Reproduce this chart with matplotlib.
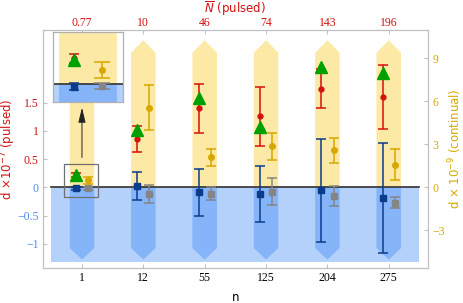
import numpy as np
import matplotlib
matplotlib.use('Agg')
import matplotlib.pyplot as plt
from matplotlib.patches import Polygon, Rectangle

# data
n_labels = ['1', '12', '55', '125', '204', '275']
nbar_labels = ['0.77', '10', '46', '74', '143', '196']

pulsed_val = [0.22, 0.86, 1.40, 1.26, 1.75, 1.60]      # x1e-7, left axis
pulsed_err = [0.035, 0.23, 0.43, 0.52, 0.35, 0.57]
theory_val = [0.21, 1.02, 1.58, 1.07, 2.13, 2.03]      # green triangles
blue_val = [-0.02, 0.03, -0.09, -0.12, -0.05, -0.19]   # x1e-7, left axis
blue_err = [0.028, 0.25, 0.42, 0.50, 0.91, 0.97]
gold_val = [0.48, 5.56, 2.09, 2.86, 2.58, 1.58]        # x1e-9, right axis
gold_err = [0.27, 1.55, 0.59, 0.95, 0.86, 1.07]
gray_val = [-0.06, -0.45, -0.44, -0.30, -0.63, -1.07]  # x1e-9, right axis
gray_err = [0.10, 0.62, 0.45, 0.93, 0.70, 0.38]

left_ticks = [-1, -0.5, 0, 0.5, 1, 1.5]
left_labels = ['\u22121', '\u22120.5', '0', '0.5', '1', '1.5']
right_ticks = [-3, 0, 3, 6, 9]
right_labels = ['\u22123', '0', '3', '6', '9']

RED = '#d41010'
GREEN = '#00a000'
NAVY = '#0b3c8c'
GOLD = '#d6a800'
GRAY = '#858585'
YELLOW = '#fde9a6'
LBLUE = '#b4d1fb'
DBLUE = '#86b4f8'
FRAME = '#c0c0c0'

plt.rcParams['font.family'] = ['DejaVu Sans']
serif = 'Liberation Serif'

x = np.arange(1, len(n_labels) + 1)
ylim_left = (-1.429, 2.787)
k = 14.33 / 56.4   # continual units -> pulsed units
ylim_right = (ylim_left[0] / k, ylim_left[1] / k)

fig = plt.figure(figsize=(4.63, 3.03), dpi=100)
ax = fig.add_axes([0.0929, 0.1155, 0.8315, 0.7855])
ax.set_xlim(0.365, 6.64)
ax.set_ylim(*ylim_left)


def draw_background(a, xs, hw, x0, x1):
    a.add_patch(Rectangle((x0, -1.317), x1 - x0, 1.317, fc=LBLUE, ec='none', zorder=0))
    for xc in xs:
        a.add_patch(Polygon([(xc - hw, 0), (xc - hw, 2.383), (xc, 2.606), (xc + hw, 2.383), (xc + hw, 0)],
                            closed=True, fc=YELLOW, ec='none', zorder=0.5))
        a.add_patch(Polygon([(xc - hw, 0), (xc - hw, -1.075), (xc, -1.28), (xc + hw, -1.075), (xc + hw, 0)],
                            closed=True, fc=DBLUE, ec='none', zorder=0.5))
    a.plot([x0, x1], [0, 0], color='#303030', lw=1.2, zorder=1)


def draw_left(a, xs, pv, pe, tv, bv, be):
    a.errorbar(xs - 0.1, pv, yerr=pe, fmt='o', color=RED, ms=3.5, capsize=3.5, lw=1.1, capthick=1.1, zorder=3)
    a.plot(xs - 0.1, tv, '^', color=GREEN, ms=9, zorder=4)
    a.errorbar(xs - 0.1, bv, yerr=be, fmt='s', color=NAVY, ms=4, capsize=3.5, lw=1.1, capthick=1.1, zorder=3)


draw_background(ax, x, 0.2, 0.5, 6.5)
draw_left(ax, x, pulsed_val, pulsed_err, theory_val, blue_val, blue_err)

# zoom box and arrow
ax.add_patch(Rectangle((0.707, -0.17), 0.549, 0.59, fc='none', ec='#707070', lw=0.9, zorder=5))
ax.annotate('', xy=(1.0, 1.46), xytext=(1.0, 0.48),
            arrowprops=dict(arrowstyle='-|>,head_length=0.9,head_width=0.22', color='#222222', lw=0.7),
            zorder=5)

ax.set_xticks(x)
ax.set_xticklabels(n_labels, fontfamily=serif, fontsize=8.5)
ax.set_yticks(left_ticks)
ax.set_yticklabels(left_labels, fontfamily=serif, fontsize=8.5)
for lab, t in zip(ax.get_yticklabels(), left_ticks):
    lab.set_color(RED if t > 0 else '#4a8ef0')
ax.tick_params(direction='in', length=3, color=FRAME, pad=3, top=True)
for s in ax.spines.values():
    s.set_color(FRAME)
ax.set_xlabel('n', fontsize=8.5)
ax.xaxis.set_label_coords(0.5, -0.095)
ax.set_ylabel(r'd $\times 10^{-7}$ (pulsed)', color=RED, fontsize=8.5)
ax.yaxis.set_label_coords(-0.064, 0.5)

# top axis: mean photon number per pulse
for xi, lab in zip(x, nbar_labels):
    ax.text(xi, 1.031, lab, transform=ax.get_xaxis_transform(), ha='center', va='center',
            fontfamily=serif, fontsize=8.5, color=RED)
fig.text(0.508, 1 - 8.5 / 303, r'$\overline{N}$ (pulsed)', color=RED, fontsize=8.5, ha='center', va='center')

ax2 = ax.twinx()
ax2.set_ylim(*ylim_right)
ax2.errorbar(x + 0.1, gold_val, yerr=gold_err, fmt='o', color=GOLD, ms=4, capsize=3.5, lw=1.1, capthick=1.1, zorder=3)
ax2.errorbar(x + 0.1, gray_val, yerr=gray_err, fmt='s', color=GRAY, ms=4.5, capsize=3.5, lw=1.1, capthick=1.1, zorder=3)
ax2.set_yticks(right_ticks)
ax2.set_yticklabels(right_labels, fontfamily=serif, fontsize=8.5, color=GOLD)
ax2.tick_params(direction='in', length=3, color=FRAME, pad=3)
for s in ax2.spines.values():
    s.set_color(FRAME)
ax2.set_ylabel(r'd $\times$ 10$^{-9}$ (continual)', color=GOLD, fontsize=8.5)
ax2.yaxis.set_label_coords(1.047, 0.5)

# inset, a magnified copy of the n = 1 group
axi = ax2.inset_axes([0.533, 1.52 / k, 1.13, 1.223 / k], transform=ax2.transData)
axi.set_xlim(0.76, 1.24)
axi.set_ylim(-0.148, 0.442)
draw_background(axi, x[:1], 0.2, 0.5, 1.5)
draw_left(axi, x[:1], pulsed_val[:1], pulsed_err[:1], theory_val[:1], blue_val[:1], blue_err[:1])
axi.errorbar(x[:1] + 0.1, np.array(gold_val[:1]) * k, yerr=np.array(gold_err[:1]) * k, fmt='o', color=GOLD,
             ms=4, capsize=6, lw=1.1, capthick=1.1, zorder=3)
axi.errorbar(x[:1] + 0.1, np.array(gray_val[:1]) * k, yerr=np.array(gray_err[:1]) * k, fmt='s', color=GRAY,
             ms=4.5, capsize=6, lw=1.1, capthick=1.1, zorder=3)
axi.set_xticks([])
axi.set_yticks([])
axi.set_facecolor('white')
for s in axi.spines.values():
    s.set_color('#b0b0b0')
    s.set_linewidth(0.9)

fig.savefig('out.png', dpi=100)
